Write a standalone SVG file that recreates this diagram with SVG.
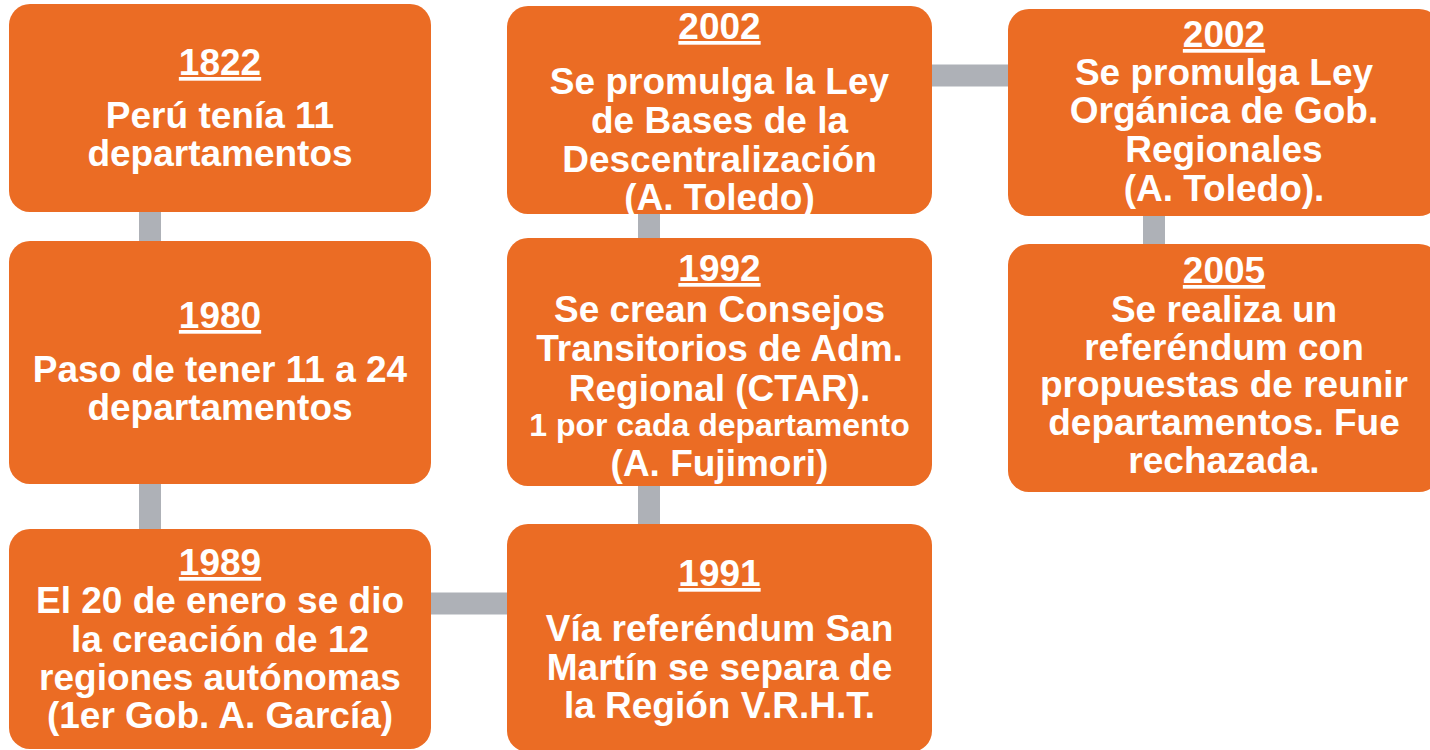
<svg xmlns="http://www.w3.org/2000/svg" width="1430" height="750" viewBox="0 0 1430 750">
<style>
.box{fill:#EB6C24;}
.conn{stroke:#AEB1B7;stroke-width:22;fill:none;}
text{font-family:"Liberation Sans",Arial,sans-serif;font-weight:bold;font-size:37px;fill:#FFFFFF;text-anchor:middle;}
.yr{text-decoration:underline;}
.sm{font-size:32px;}
</style>
<rect width="1430" height="750" fill="#FFFFFF"/>
<g id="connectors">
<path class="conn" d="M150 200 V255"/>
<path class="conn" d="M150 470 V540"/>
<path class="conn" d="M420 603.5 H520"/>
<path class="conn" d="M649 470 V540"/>
<path class="conn" d="M649 200 V250"/>
<path class="conn" d="M920 75.5 H1020"/>
<path class="conn" d="M1154 200 V256"/>
</g>
<g id="n1822">
<rect class="box" x="9" y="4" width="422" height="208" rx="21"/>
<text class="yr" x="220" y="75">1822</text>
<text x="220" y="128">Perú tenía 11</text>
<text x="220" y="166">departamentos</text>
</g>
<g id="n1980">
<rect class="box" x="9" y="241" width="422" height="243" rx="21"/>
<text class="yr" x="220" y="328">1980</text>
<text x="220" y="382">Paso de tener 11 a 24</text>
<text x="220" y="420">departamentos</text>
</g>
<g id="n1989">
<rect class="box" x="9" y="529" width="422" height="220" rx="21"/>
<text class="yr" x="220" y="575">1989</text>
<text x="220" y="613">El 20 de enero se dio</text>
<text x="220" y="652">la creación de 12</text>
<text x="220" y="690">regiones autónomas</text>
<text x="220" y="728">(1er Gob. A. García)</text>
</g>
<g id="n1991">
<rect class="box" x="507" y="524" width="425" height="228" rx="21"/>
<text class="yr" x="719.5" y="586">1991</text>
<text x="719.5" y="641">Vía referéndum San</text>
<text x="719.5" y="680">Martín se separa de</text>
<text x="719.5" y="718">la Región V.R.H.T.</text>
</g>
<g id="n1992">
<rect class="box" x="507" y="238" width="425" height="248" rx="21"/>
<text class="yr" x="719.5" y="281">1992</text>
<text x="719.5" y="322">Se crean Consejos</text>
<text x="719.5" y="361">Transitorios de Adm.</text>
<text x="719.5" y="401">Regional (CTAR).</text>
<text class="sm" x="719.5" y="436">1 por cada departamento</text>
<text x="719.5" y="476">(A. Fujimori)</text>
</g>
<g id="n2002a">
<rect class="box" x="507" y="6" width="425" height="208" rx="21"/>
<text class="yr" x="719.5" y="39">2002</text>
<text x="719.5" y="94">Se promulga la Ley</text>
<text x="719.5" y="133">de Bases de la</text>
<text x="719.5" y="172">Descentralización</text>
<text x="719.5" y="210">(A. Toledo)</text>
</g>
<g id="n2002b">
<rect class="box" x="1008" y="9" width="432" height="207" rx="21"/>
<text class="yr" x="1224" y="47">2002</text>
<text x="1224" y="85">Se promulga Ley</text>
<text x="1224" y="123">Orgánica de Gob.</text>
<text x="1224" y="162">Regionales</text>
<text x="1224" y="201">(A. Toledo).</text>
</g>
<g id="n2005">
<rect class="box" x="1008" y="244" width="432" height="248" rx="21"/>
<text class="yr" x="1224" y="283">2005</text>
<text x="1224" y="322">Se realiza un</text>
<text x="1224" y="360">referéndum con</text>
<text x="1224" y="397">propuestas de reunir</text>
<text x="1224" y="435">departamentos. Fue</text>
<text x="1224" y="473">rechazada.</text>
</g>
</svg>
